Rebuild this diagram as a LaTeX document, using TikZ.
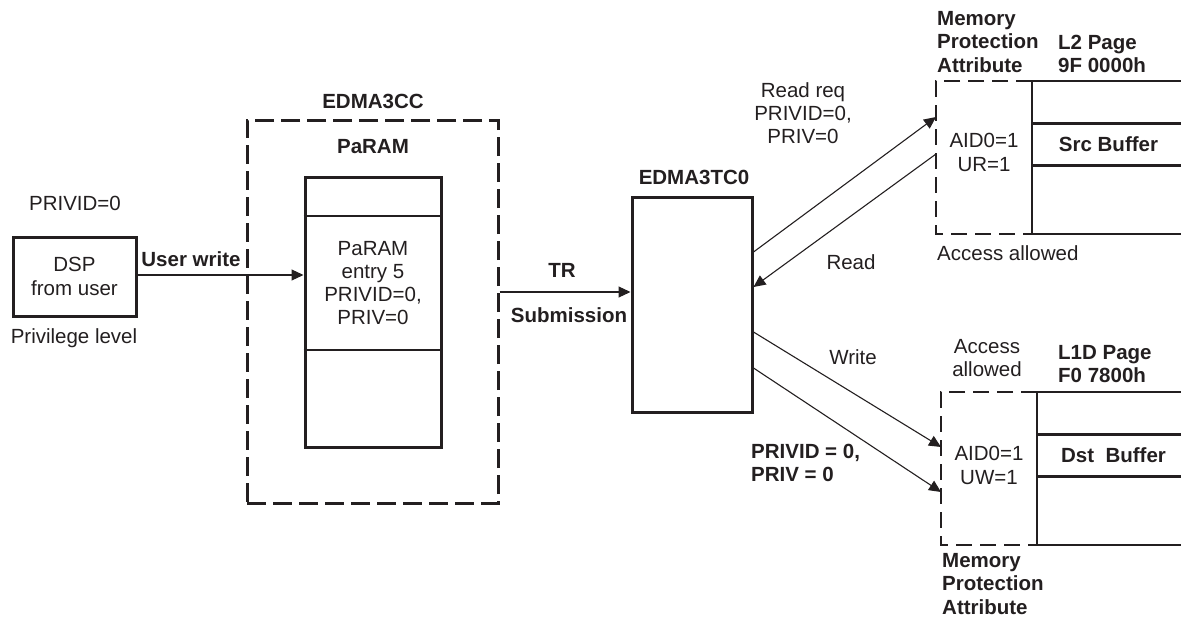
\documentclass[tikz,border=0pt]{standalone}
\usepackage{fontspec}
\setmainfont{Liberation Sans}
\usepackage{tikz}
\usetikzlibrary{positioning,arrows.meta,calc}
\definecolor{dInk}{HTML}{231F20}
\tikzset{
  lbl/.style={font=\fontsize{20.5}{23.3}\selectfont, text=dInk, inner sep=0pt, align=center},
  blbl/.style={lbl, font=\fontsize{20.5}{23.3}\selectfont\bfseries},
  blk/.style={draw=dInk, line width=3pt, inner sep=0pt},
  ccbox/.style={draw=dInk, line width=3pt, dash pattern=on 19pt off 7pt, inner sep=0pt},
  attrbox/.style={inner sep=0pt, outer sep=0pt, minimum width=96pt, minimum height=153pt},
  pagebox/.style={inner sep=0pt, outer sep=0pt, minimum width=149pt, minimum height=153pt},
  attrdash/.style={draw=dInk, line width=2pt, dash pattern=on 16pt off 8pt},
  pageline/.style={draw=dInk, line width=2.5pt},
  bufline/.style={draw=dInk, line width=3pt},
  divline/.style={draw=dInk, line width=1.3pt},
  flow/.style={draw=dInk, line width=1.1pt, -{Triangle[length=12pt,width=11pt]}}
}
\newcommand{\mempage}[6]{%
\node[attrbox] (#1) at (#2,#3) {};%
\node[lbl] (#1txt) at ($(#1.center)+(0,#6)$) {#4};%
\node[pagebox, anchor=west] (#1pg) at (#1.east) {};%
\draw[attrdash] (#1.north east) -- (#1.north west) -- (#1.south west) -- (#1.south east);%
\draw[pageline] (#1pg.north east) -- (#1pg.north west) -- (#1pg.south west) -- (#1pg.south east);%
\draw[bufline] ($(#1pg.north west)+(0,42)$) -- ($(#1pg.north east)+(0,42)$);%
\draw[bufline] ($(#1pg.north west)+(0,84)$) -- ($(#1pg.north east)+(0,84)$);%
\node[blbl] (#1buf) at ($(#1pg.north)+(2,63)$) {#5};}

\begin{document}
\begin{tikzpicture}[x=1pt,y=-1pt]
\useasboundingbox (0,0) rectangle (1181,618);
% DSP
\node[blk, lbl, minimum width=123pt, minimum height=79pt] (dsp) at (74.5,276.5) {DSP\\from user};
\node[lbl] (privid) at (75,203) {PRIVID=0};
\node[lbl] (privlvl) at (74,338) {Privilege level};
% EDMA3CC
\node[ccbox, minimum width=251pt, minimum height=383pt] (cc) at (372.5,311.5) {};
\node[blbl] (cclbl) at (373,101) {EDMA3CC};
\node[blbl] (paramlbl) at (373,147) {PaRAM};
\node[blk, minimum width=136pt, minimum height=270pt] (param) at (373,312) {};
\draw[divline] (param.west |- 0,216) -- (param.east |- 0,216);
\draw[divline] (param.west |- 0,350) -- (param.east |- 0,350);
\node[lbl] (entry) at (373,283) {PaRAM\\entry 5\\PRIVID=0,\\PRIV=0};
\draw[flow] (dsp.east |- 0,275) -- (param.west |- 0,275);
\node[blbl] (uwr) at (191,259) {User write};
% EDMA3TC0
\node[blk, minimum width=120pt, minimum height=215pt] (tc) at (692,304.5) {};
\node[blbl] (tclbl) at (694,177) {EDMA3TC0};
\draw[flow] (cc.east |- 0,292) -- (tc.west |- 0,292);
\node[blbl] (trlbl) at (562,270) {TR};
\node[blbl] (sublbl) at (569,315) {Submission};
% L2 page
\mempage{l2attr}{984}{157.5}{AID0=1\\UR=1}{Src Buffer}{-5}
\node[blbl, align=left, anchor=west] (l2mpa) at (937,42) {Memory\\Protection\\Attribute};
\node[blbl, align=left, anchor=west] (l2pg) at (1058,54) {L2 Page\\9F 0000h};
\node[lbl, anchor=west] (l2ok) at (937,253) {Access allowed};
\draw[flow] (tc.east |- 0,252) -- (l2attr.west |- 0,117);
\draw[flow] (l2attr.west |- 0,154) -- (tc.east |- 0,287);
\node[lbl] (rdreq) at (803,113) {Read req\\PRIVID=0,\\PRIV=0};
\node[lbl] (rd) at (851,262) {Read};
% L1D page
\mempage{l1attr}{989}{468.5}{AID0=1\\UW=1}{Dst\ \ Buffer}{-3}
\node[lbl] (l1ok) at (987,358) {Access\\allowed};
\node[blbl, align=left, anchor=west] (l1pg) at (1058,364) {L1D Page\\F0 7800h};
\node[blbl, align=left, anchor=west] (l1mpa) at (942,584) {Memory\\Protection\\Attribute};
\draw[flow] (tc.east |- 0,332) -- (l1attr.west |- 0,447);
\draw[flow] (tc.east |- 0,368) -- (l1attr.west |- 0,492);
\node[lbl] (wr) at (853,357) {Write};
\node[blbl, align=left, anchor=west] (wrpriv) at (751,463) {PRIVID = 0,\\PRIV = 0};
\end{tikzpicture}
\end{document}
